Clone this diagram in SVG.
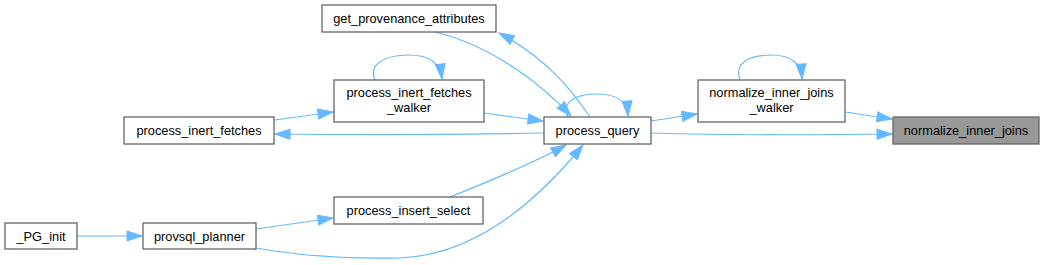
<svg xmlns="http://www.w3.org/2000/svg" width="1045" height="265" viewBox="0 0 1045 265">
<style>
.node rect{fill:#ffffff;stroke:#666666;stroke-width:1.3}
.node.hl rect{fill:#999999}
.node text{font-family:"Liberation Sans",Arial,sans-serif;font-size:12.8px;fill:#000000;text-anchor:middle}
#edges path{fill:none;stroke:#63b8ff;stroke-width:1.2;marker-end:url(#ah)}
</style>
<defs>
<marker id="ah" markerWidth="17" markerHeight="12" refX="15" refY="5" orient="auto" markerUnits="userSpaceOnUse" overflow="visible">
<path d="M0,0 L15,5 L0,10 z" fill="#63b8ff" stroke="#63b8ff" stroke-width="1"/>
</marker>
</defs>
<rect x="0" y="0" width="1045" height="265" fill="#ffffff"/>
<g id="edges">
<path d="M845,112 L892,119"/>
<path d="M651,133 C720,135 820,135 892,134"/>
<path d="M651,121 L697,114"/>
<path d="M740,80 C734,64 748,55 771,55 C790,55 801,62 802,79"/>
<path d="M568,117 C561,102 575,94 597,94 C616,94 627,100 628,116"/>
<path d="M435,32 C495,46 545,88 571,116"/>
<path d="M590,117 C575,95 550,60 499,33"/>
<path d="M484,113 L543,121"/>
<path d="M544,133 C450,135 350,135 275,134"/>
<path d="M275,120 L333,112"/>
<path d="M375,80 C368,64 385,55 409,55 C428,55 440,62 442,79"/>
<path d="M450,197 C480,185 530,165 566,145"/>
<path d="M256,248 C300,256 350,259 400,258 C470,255 530,210 583,145"/>
<path d="M256,229 L333,218"/>
<path d="M77,236 L142,236"/>
</g>
<g id="normalize_inner_joins" class="node hl">
<rect x="893" y="117" width="146" height="27"/>
<text x="966" y="135">normalize_inner_joins</text>
</g>
<g id="normalize_inner_joins_walker" class="node">
<rect x="698" y="80" width="147" height="42"/>
<text x="771.5" y="97">normalize_inner_joins</text>
<text x="771.5" y="112">_walker</text>
</g>
<g id="process_query" class="node">
<rect x="544" y="117" width="107" height="27"/>
<text x="597.5" y="135">process_query</text>
</g>
<g id="get_provenance_attributes" class="node">
<rect x="322" y="5" width="174" height="27"/>
<text x="409" y="23">get_provenance_attributes</text>
</g>
<g id="process_inert_fetches_walker" class="node">
<rect x="334" y="80" width="150" height="42"/>
<text x="409" y="97">process_inert_fetches</text>
<text x="409" y="112">_walker</text>
</g>
<g id="process_insert_select" class="node">
<rect x="334" y="197" width="149" height="27"/>
<text x="408.5" y="215">process_insert_select</text>
</g>
<g id="process_inert_fetches" class="node">
<rect x="124" y="117" width="150" height="27"/>
<text x="199" y="135">process_inert_fetches</text>
</g>
<g id="provsql_planner" class="node">
<rect x="143" y="223" width="113" height="26"/>
<text x="199.5" y="240.5">provsql_planner</text>
</g>
<g id="_PG_init" class="node">
<rect x="5" y="223" width="72" height="26"/>
<text x="41" y="240.5">_PG_init</text>
</g>
</svg>
